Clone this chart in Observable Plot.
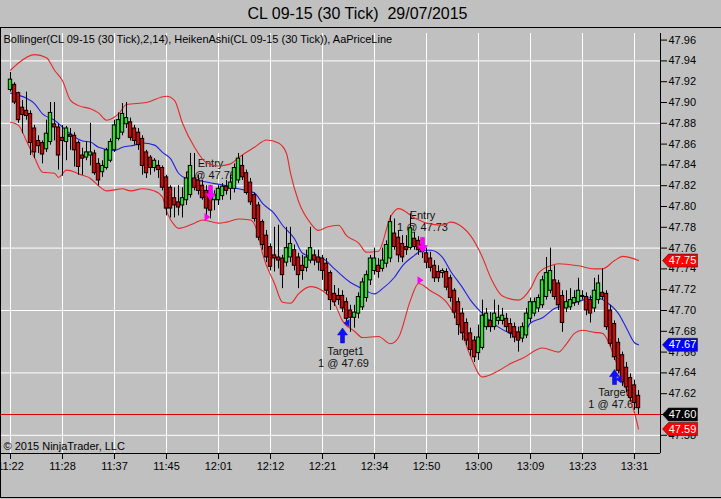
<!DOCTYPE html>
<html><head><meta charset="utf-8">
<script src="https://cdn.jsdelivr.net/npm/d3@7"></script>
<script src="https://cdn.jsdelivr.net/npm/@observablehq/plot@0.6"></script>
<style>
html,body{margin:0;padding:0;background:#c0c0c0;}
#wrap{position:relative;width:721px;height:499px;overflow:hidden;background:#c0c0c0;}
#chart{position:absolute;left:0;top:0;}
#border{position:absolute;left:0;top:27px;width:730px;height:469px;border:1px solid #000;pointer-events:none;}
</style></head><body>
<div id="wrap"><div id="chart"></div><div id="border"></div></div>
<script>
const title = "CL 09-15 (30 Tick)  29/07/2015";
const infoText = "Bollinger(CL 09-15 (30 Tick),2,14), HeikenAshi(CL 09-15 (30 Tick)), AaPriceLine";
const copyright = "\u00A9 2015 NinjaTrader, LLC";

const timeIdx = [0,13,26,39,52,65,78,91,104,117,130,143,156];
const timeLabels = ["11:22","11:28","11:37","11:45","12:01","12:12","12:21","12:34","12:50","13:00","13:09","13:23","13:31"];
const yTicks = [47.58,47.60,47.62,47.64,47.66,47.68,47.70,47.72,47.74,47.76,47.78,47.80,47.82,47.84,47.86,47.88,47.90,47.92,47.94,47.96];
const yGrid = [47.58,47.64,47.70,47.76,47.82,47.88,47.94];

// Heiken Ashi bars
const opens = [47.912,47.917,47.909,47.895,47.892,47.889,47.875,47.863,47.861,47.855,
47.862,47.879,47.876,47.866,47.862,47.869,47.868,47.861,47.849,47.847,
47.849,47.851,47.841,47.833,47.837,47.844,47.854,47.865,47.871,47.879,
47.881,47.875,47.871,47.865,47.852,47.847,47.837,47.839,47.837,47.828,
47.818,47.808,47.804,47.801,47.806,47.811,47.827,47.825,47.820,47.815,
47.815,47.806,47.806,47.810,47.819,47.817,47.817,47.825,47.839,47.832,
47.823,47.811,47.801,47.785,47.772,47.761,47.753,47.751,47.750,47.746,
47.751,47.758,47.751,47.743,47.741,47.748,47.753,47.751,47.750,47.745,
47.736,47.716,47.714,47.714,47.708,47.700,47.693,47.697,47.703,47.712,
47.729,47.738,47.743,47.740,47.745,47.750,47.774,47.770,47.764,47.761,
47.760,47.769,47.767,47.763,47.755,47.750,47.743,47.737,47.736,47.737,
47.731,47.719,47.708,47.697,47.688,47.678,47.671,47.659,47.664,47.684,
47.690,47.684,47.690,47.690,47.692,47.687,47.684,47.679,47.673,47.676,
47.692,47.697,47.702,47.705,47.713,47.719,47.729,47.726,47.714,47.702,
47.703,47.707,47.708,47.714,47.713,47.710,47.702,47.710,47.717,47.716,
47.700,47.687,47.669,47.657,47.645,47.635,47.628,47.618];
const closes = [47.922,47.900,47.883,47.888,47.887,47.861,47.852,47.858,47.850,47.870,
47.890,47.876,47.849,47.863,47.875,47.867,47.854,47.838,47.846,47.852,
47.852,47.832,47.825,47.839,47.854,47.862,47.878,47.883,47.889,47.885,
47.866,47.863,47.859,47.839,47.832,47.837,47.844,47.835,47.818,47.798,
47.798,47.801,47.799,47.808,47.827,47.839,47.818,47.815,47.808,47.798,
47.796,47.811,47.817,47.819,47.815,47.823,47.837,47.846,47.828,47.813,
47.804,47.788,47.770,47.763,47.751,47.742,47.750,47.748,47.734,47.760,
47.764,47.743,47.734,47.738,47.751,47.760,47.748,47.746,47.738,47.719,
47.710,47.708,47.710,47.702,47.692,47.693,47.698,47.713,47.727,47.734,
47.750,47.750,47.737,47.748,47.763,47.785,47.761,47.753,47.751,47.758,
47.779,47.761,47.758,47.756,47.746,47.741,47.731,47.731,47.738,47.722,
47.712,47.698,47.686,47.678,47.671,47.662,47.655,47.674,47.695,47.697,
47.684,47.697,47.693,47.695,47.684,47.678,47.674,47.671,47.684,47.697,
47.708,47.708,47.712,47.729,47.736,47.738,47.713,47.705,47.688,47.708,
47.710,47.712,47.719,47.713,47.700,47.697,47.719,47.726,47.713,47.684,
47.668,47.655,47.642,47.631,47.626,47.616,47.611,47.606];
const highs = [47.929,47.919,47.910,47.902,47.910,47.892,47.878,47.868,47.863,47.883,
47.900,47.900,47.879,47.878,47.877,47.875,47.871,47.863,47.856,47.862,
47.880,47.854,47.846,47.844,47.856,47.865,47.883,47.890,47.899,47.900,
47.885,47.878,47.875,47.868,47.854,47.849,47.846,47.844,47.839,47.830,
47.820,47.818,47.820,47.818,47.833,47.851,47.851,47.830,47.825,47.820,
47.820,47.815,47.820,47.822,47.825,47.830,47.841,47.851,47.849,47.835,
47.827,47.813,47.804,47.787,47.777,47.764,47.780,47.782,47.753,47.780,
47.780,47.763,47.755,47.753,47.758,47.780,47.758,47.758,47.753,47.750,
47.738,47.724,47.721,47.719,47.712,47.705,47.705,47.717,47.731,47.738,
47.753,47.760,47.750,47.760,47.767,47.791,47.788,47.777,47.772,47.772,
47.793,47.775,47.771,47.767,47.760,47.756,47.748,47.743,47.740,47.740,
47.734,47.721,47.712,47.702,47.692,47.683,47.675,47.686,47.710,47.702,
47.698,47.710,47.705,47.702,47.697,47.692,47.688,47.684,47.688,47.702,
47.712,47.712,47.715,47.733,47.751,47.760,47.743,47.729,47.719,47.719,
47.721,47.719,47.731,47.719,47.717,47.714,47.731,47.734,47.740,47.719,
47.705,47.690,47.673,47.660,47.650,47.639,47.633,47.623];
const lows = [47.910,47.898,47.880,47.870,47.883,47.849,47.846,47.851,47.841,47.852,
47.859,47.863,47.835,47.829,47.844,47.854,47.838,47.830,47.830,47.844,
47.839,47.830,47.820,47.828,47.835,47.842,47.852,47.863,47.868,47.875,
47.863,47.859,47.854,47.830,47.827,47.830,47.833,47.827,47.815,47.791,
47.789,47.789,47.791,47.789,47.801,47.808,47.815,47.811,47.806,47.791,
47.788,47.796,47.801,47.806,47.811,47.806,47.813,47.822,47.825,47.811,
47.801,47.785,47.767,47.758,47.746,47.738,47.737,47.740,47.721,47.742,
47.746,47.738,47.721,47.729,47.737,47.745,47.743,47.738,47.729,47.715,
47.700,47.704,47.705,47.698,47.686,47.679,47.683,47.692,47.700,47.708,
47.724,47.734,47.731,47.737,47.741,47.746,47.758,47.746,47.746,47.753,
47.758,47.758,47.753,47.750,47.740,47.737,47.727,47.727,47.731,47.719,
47.708,47.692,47.676,47.671,47.666,47.656,47.650,47.652,47.662,47.681,
47.679,47.681,47.686,47.686,47.679,47.673,47.669,47.660,47.669,47.673,
47.688,47.694,47.698,47.702,47.710,47.716,47.710,47.700,47.679,47.698,
47.700,47.704,47.705,47.710,47.695,47.688,47.698,47.706,47.710,47.681,
47.665,47.652,47.639,47.627,47.621,47.612,47.604,47.600];

// Bollinger bands (read at bar positions)
const upperIdx = [0,2,6,9,11,13,15,17,20,22,24,27,29,34,39,41,43,46,49,52,55,57,61,64,67,69,70,72,75,77,79,82,84,87,89,92,95,97,101,104,108,110,113,115,118,120,123,127,130,132,135,137,142,146,148,151,153,157];
const upperVal = [47.931,47.938,47.946,47.943,47.931,47.921,47.902,47.897,47.894,47.890,47.883,47.889,47.898,47.900,47.906,47.902,47.880,47.857,47.842,47.839,47.841,47.847,47.857,47.864,47.861,47.851,47.832,47.805,47.784,47.777,47.780,47.782,47.772,47.765,47.756,47.757,47.790,47.798,47.789,47.784,47.782,47.785,47.780,47.772,47.751,47.732,47.714,47.710,47.721,47.736,47.743,47.745,47.743,47.740,47.740,47.748,47.752,47.748];
const midIdx = [0,4,6,8,11,14,18,20,22,26,28,31,33,36,38,40,42,44,47,51,54,57,61,63,66,68,71,73,76,78,81,85,88,91,93,96,98,101,103,105,108,110,113,115,118,122,125,128,130,133,136,139,143,146,149,152,154,156,157];
const midVal = [47.909,47.904,47.899,47.889,47.883,47.873,47.863,47.862,47.857,47.854,47.857,47.859,47.861,47.859,47.852,47.846,47.832,47.827,47.825,47.822,47.820,47.817,47.813,47.803,47.793,47.782,47.769,47.755,47.751,47.750,47.740,47.727,47.721,47.716,47.721,47.732,47.743,47.753,47.758,47.758,47.751,47.738,47.722,47.710,47.697,47.684,47.678,47.676,47.688,47.693,47.702,47.705,47.710,47.713,47.708,47.697,47.683,47.669,47.667];
const lowIdx = [0,2,4,6,8,11,12,14,18,20,22,24,28,30,33,36,38,39,41,42,46,48,52,54,57,60,62,63,66,68,70,72,75,78,81,83,86,88,92,95,97,100,102,105,109,112,115,118,122,125,128,133,137,139,141,143,146,148,151,153,156,157];
const lowVal = [47.881,47.878,47.863,47.847,47.833,47.832,47.828,47.835,47.830,47.827,47.820,47.815,47.817,47.815,47.817,47.815,47.809,47.796,47.782,47.779,47.784,47.787,47.784,47.785,47.788,47.787,47.772,47.755,47.726,47.708,47.707,47.716,47.723,47.719,47.707,47.690,47.680,47.674,47.675,47.668,47.674,47.710,47.726,47.719,47.708,47.688,47.656,47.636,47.642,47.649,47.654,47.664,47.660,47.668,47.678,47.681,47.679,47.678,47.655,47.633,47.602,47.586];

const lastPrice = 47.60;

// execution markers and labels
const entryArrowIdx = [50, 103], entryArrowPrice = [47.813, 47.763];
const targetArrowIdx = [83, 151], targetArrowPrice = [47.676, 47.636];
const entryFillIdx = [49.25, 102.5], entryFillPrice = [47.790, 47.729];
const targetFillIdx = [84, 152], targetFillPrice = [47.688, 47.634];
const labelText = ["Entry","1 @ 47.79","Entry","1 @ 47.73","Target1","1 @ 47.69","Target1","1 @ 47.61"];
const labelIdx = [50, 50, 103, 103, 83.75, 83.25, 151.5, 150.8];
const labelPrice = [47.841, 47.830, 47.791, 47.780, 47.661, 47.649, 47.621, 47.610];

// price tags on the axis
const tagValues = [47.748, 47.667, 47.60, 47.586];
const tagLabels = ["47.75", "47.67", "47.60", "47.59"];
const tagColors = ["#ff0000", "#0000ff", "#000000", "#ff0000"];

const GREEN = "#22e622", RED = "#e00000", BAND = "#e62828", MID = "#2020e0";

const bars = opens.map((o, i) => ({i, open: o, close: closes[i], high: highs[i], low: lows[i]}));
const pts = (xs, ys) => xs.map((x, k) => ({x, y: ys[k]}));
const tags = tagValues.map((v, k) => ({v, label: tagLabels[k], color: tagColors[k]}));

const tagSymbol = {draw(c) {c.moveTo(-17.5,0);c.lineTo(-11.5,-6.5);c.lineTo(17.5,-6.5);c.lineTo(17.5,6.5);c.lineTo(-11.5,6.5);c.closePath();}};
const arrowUp = {draw(c) {c.moveTo(0,-7.5);c.lineTo(5,-0.5);c.lineTo(2,-0.5);c.lineTo(2,7.5);c.lineTo(-2,7.5);c.lineTo(-2,-0.5);c.lineTo(-5,-0.5);c.closePath();}};
const arrowDown = {draw(c) {c.moveTo(0,7.5);c.lineTo(5,0.5);c.lineTo(2,0.5);c.lineTo(2,-7.5);c.lineTo(-2,-7.5);c.lineTo(-2,0.5);c.lineTo(-5,0.5);c.closePath();}};
const triRight = {draw(c) {c.moveTo(-3,-4);c.lineTo(3,0);c.lineTo(-3,4);c.closePath();}};
const triLeft = {draw(c) {c.moveTo(3,-4);c.lineTo(-3,0);c.lineTo(3,4);c.closePath();}};

const FONT = "'Liberation Sans', Arial, sans-serif";

const chart = Plot.plot({
  width: 721, height: 499,
  marginLeft: 1, marginRight: 61, marginTop: 33, marginBottom: 46,
  style: {fontFamily: FONT, fontSize: "11px", background: "transparent", color: "black", overflow: "hidden"},
  x: {type: "linear", domain: [-2.25, 162.5]},
  y: {type: "linear", domain: [47.5625, 47.96635]},
  marks: [
    Plot.gridY(yGrid, {stroke: "white", strokeOpacity: 1, strokeWidth: 1}),
    Plot.gridX(timeIdx, {stroke: "white", strokeOpacity: 1, strokeWidth: 1}),
    Plot.text([title], {frameAnchor: "top-left", dx: 356, dy: -20, textAnchor: "middle", lineAnchor: "middle", fontSize: 16, fill: "black"}),
    Plot.text([infoText], {frameAnchor: "top-left", dx: 2, dy: 6, textAnchor: "start", lineAnchor: "middle", fontSize: 11, fill: "black"}),
    Plot.text([copyright], {frameAnchor: "bottom-left", dx: 2, dy: -7, textAnchor: "start", lineAnchor: "middle", fontSize: 11, fill: "black"}),
    Plot.text(labelText.map((t, k) => ({t, x: labelIdx[k], y: labelPrice[k]})), {x: "x", y: "y", text: "t", fontSize: 11, fill: "#111", lineAnchor: "middle"}),
    Plot.line(pts(upperIdx, upperVal), {x: "x", y: "y", stroke: BAND, strokeWidth: 1.1, curve: "monotone-x"}),
    Plot.line(pts(lowIdx, lowVal), {x: "x", y: "y", stroke: BAND, strokeWidth: 1.1, curve: "monotone-x"}),
    Plot.line(pts(midIdx, midVal), {x: "x", y: "y", stroke: MID, strokeWidth: 1.1, curve: "monotone-x"}),
    Plot.ruleY([lastPrice], {stroke: RED, strokeWidth: 1}),
    Plot.ruleX(bars, {x: "i", y1: "low", y2: "high", stroke: "black", strokeWidth: 1}),
    Plot.rect(bars, {x1: d => d.i - 0.42, x2: d => d.i + 0.42, y1: "open", y2: "close", fill: d => d.close >= d.open ? GREEN : RED, stroke: "black", strokeWidth: 1}),
    Plot.dot(pts(entryArrowIdx, entryArrowPrice), {x: "x", y: "y", symbol: arrowDown, fill: "#ff00ff", stroke: "#d000d0", strokeWidth: 0.5, r: 5}),
    Plot.dot(pts(entryFillIdx, entryFillPrice), {x: "x", y: "y", symbol: triRight, fill: "#ff00ff", stroke: "none", r: 4}),
    Plot.dot(pts(targetArrowIdx, targetArrowPrice), {x: "x", y: "y", symbol: arrowUp, fill: "#1010ff", stroke: "#0000b0", strokeWidth: 0.5, r: 5}),
    Plot.dot(pts(targetFillIdx, targetFillPrice), {x: "x", y: "y", symbol: triLeft, fill: "#1010ff", stroke: "none", r: 4}),
    Plot.axisY(yTicks, {anchor: "right", tickSize: 6, tickPadding: 2, tickFormat: d => d.toFixed(2), label: null, fontSize: 11, stroke: "black", fill: "black"}),
    Plot.axisX(timeIdx, {anchor: "bottom", tickSize: 6, tickPadding: 3, tickFormat: d => timeLabels[timeIdx.indexOf(d)], label: null, fontSize: 11, stroke: "black", fill: "black"}),
    Plot.ruleX([162.5], {stroke: "black", strokeWidth: 1}),
    Plot.ruleY([47.5625], {stroke: "black", strokeWidth: 1}),
    Plot.dot(tags, {y: "v", frameAnchor: "right", dx: 19.5, symbol: tagSymbol, fill: "color", stroke: "#202020", strokeWidth: 0.6, r: 5}),
    Plot.text(tags, {y: "v", frameAnchor: "right", dx: 22, text: "label", fill: "white", fontSize: 11, textAnchor: "middle", lineAnchor: "middle"})
  ]
});
document.getElementById("chart").appendChild(chart);
</script>
</body></html>
